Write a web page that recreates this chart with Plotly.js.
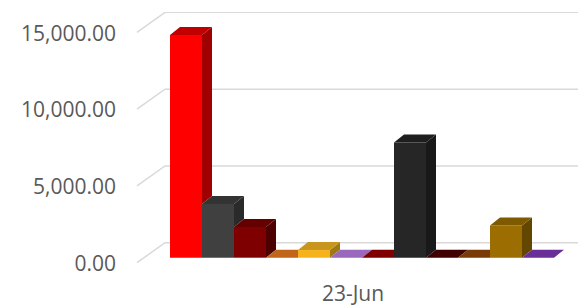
<!DOCTYPE html>
<html><head><meta charset="utf-8">
<script src="https://cdn.plot.ly/plotly-3.0.1.min.js"></script>
<style>html,body{margin:0;padding:0;background:#fff}#chart{width:580px;height:308px}</style>
</head><body><div id="chart"></div>
<script>
// ---- data ----
const categories = ['23-Jun'];
const seriesNames = ['Series 1','Series 2','Series 3','Series 4','Series 5','Series 6',
                     'Series 7','Series 8','Series 9','Series 10','Series 11','Series 12'];
const seriesValues = [14500, 3500, 2000, 0, 500, 0, 0, 7500, 0, 0, 2100, 0];
const yTickValues = [0, 5000, 10000, 15000];

// ---- styles ----
const frontColors = ['#FF0000','#404040','#7F0000','#ED7D31','#F5B21B','#A872CC',
                     '#8B0000','#262626','#4A0000','#8A4208','#9C6D00','#7030A0'];
const topColors   = ['#C00000','#333333','#650000','#C0651A','#C8961C','#9A68BC',
                     '#800000','#1E1E1E','#400000','#7A3A08','#7F5900','#6A2E98'];
const sideColors  = ['#A00000','#2A2A2A','#4C0000','#9A4F12','#A07812','#7D5699',
                     '#5E0000','#191919','#300000','#5E2C06','#634600','#55247A'];

// ---- geometry ----
const W = 580, H = 308;
const pxPerBar = 32;                 // horizontal px per bar
const pxY = 76.875 / 5000;           // px per value unit
const yMin = -800, yMax = 16000;
const mT = 12;
const mB = H - mT - (yMax - yMin) * pxY;
const mL = 121, mR = 2;
const plotW = W - mL - mR;
const xMin = -0.5;
const xMax = xMin + plotW / pxPerBar;
const firstLeft = (170 - 137) / pxPerBar;   // first bar left edge (front plane at x=0)
const dx = 10 / pxPerBar, dy = 8 / pxY;      // bar depth
const n = seriesValues.length;

const traces = [];
// front faces as real bars
seriesValues.forEach((v, i) => {
  traces.push({
    type: 'bar', name: seriesNames[i], x: [firstLeft + i + 0.5], y: [v], width: [1],
    marker: {color: frontColors[i], line: {width: 0}}, showlegend: false,
    hovertemplate: seriesNames[i] + ': %{y:,.2f}<extra></extra>'
  });
});
// side and top faces (clipped by the next bar)
seriesValues.forEach((v, i) => {
  const l = firstLeft + i, r = l + 1;
  const next = i < n - 1 ? seriesValues[i + 1] : 0;
  if (v > next) {
    traces.push({type: 'scatter', mode: 'lines', fill: 'toself', hoverinfo: 'skip',
      x: [r, r + dx, r + dx, r, r], y: [next, next + dy, v + dy, v, next],
      fillcolor: sideColors[i], line: {width: 0, color: sideColors[i]}, showlegend: false});
  }
  const m = Math.max(v, i < n - 1 ? next : v);
  const tEnd = Math.max(0, Math.min(dx, dx * (v + dy - m) / dy));
  traces.push({type: 'scatter', mode: 'lines', fill: 'toself', hoverinfo: 'skip',
    x: [l, l + dx, r + tEnd, r, r, l], y: [v, v + dy, v + dy, Math.min(m, v + dy), v, v],
    fillcolor: topColors[i], line: {width: 0, color: topColors[i]}, showlegend: false});
});

// back-wall gridlines with floor diagonals
const backDx = 28 / pxPerBar, frontDrop = 5 / pxY, backRise = 15 / pxY;
const shapes = yTickValues.map(t => ({
  type: 'path', xref: 'x', yref: 'y', layer: 'below',
  path: `M 0,${t - frontDrop} L ${backDx},${t + backRise} L ${xMax},${t + backRise}`,
  line: {color: '#D9D9D9', width: 1.5}
}));

const font = {family: 'Open Sans, sans-serif', size: 21, color: '#595959'};
const layout = {
  width: W, height: H, margin: {l: mL, r: mR, t: mT, b: mB},
  paper_bgcolor: '#fff', plot_bgcolor: 'rgba(0,0,0,0)', barmode: 'overlay',
  showlegend: false, font: font, shapes: shapes, hovermode: 'closest',
  xaxis: {range: [xMin, xMax], showgrid: false, zeroline: false, showline: false, ticks: '',
    tickvals: [firstLeft + n / 2 - 0.28], ticktext: categories, tickfont: font,
    ticklabelstandoff: 9, fixedrange: true},
  yaxis: {range: [yMin, yMax], showgrid: false, zeroline: false, showline: false, ticks: '',
    tickvals: yTickValues, tickformat: ',.2f', tickfont: font,
    ticklabelshift: 6, ticklabelstandoff: 4, fixedrange: true}
};
Plotly.newPlot('chart', traces, layout, {displayModeBar: false, staticPlot: true});
</script></body></html>
